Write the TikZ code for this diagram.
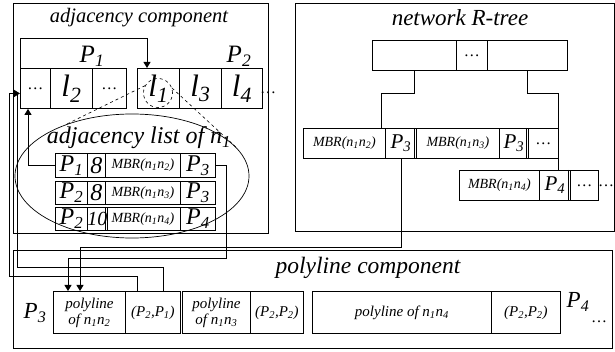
\documentclass[tikz,border=0pt]{standalone}
\usepackage{fontspec}
\setmainfont{Liberation Serif}
\usetikzlibrary{shapes.geometric,arrows.meta,calc}
\newcommand{\psb}[2]{\textit{#1}\textsubscript{\textit{#2}}}
\begin{document}
\begin{tikzpicture}[x=1pt,y=-1pt,line width=0.9pt,
  cell/.style={draw,inner sep=0pt,anchor=north west,font=\fontsize{16}{18}\selectfont\itshape},
  ttl/.style={inner sep=0pt,font=\fontsize{21}{23}\selectfont\itshape},
  biglab/.style={inner sep=0pt,font=\fontsize{25}{27}\selectfont\itshape},
  lfont/.style={font=\fontsize{31}{33}\selectfont\itshape},
  pfont/.style={font=\fontsize{24}{26}\selectfont\itshape},
  mbr/.style={font=\fontsize{14}{16}\selectfont\itshape},
  rtp/.style={font=\fontsize{21}{23}\selectfont\itshape},
  plf/.style={font=\fontsize{15}{16}\selectfont\itshape,align=center},
  dotsf/.style={inner sep=0pt,font=\fontsize{16}{18}\selectfont},
  arr/.style={-{Triangle[length=6pt,width=7pt]}},
  dsh/.style={dashed,line width=0.6pt}]
\useasboundingbox (0,0) rectangle (615,352);

% ---------- adjacency component ----------
\node[cell,minimum width=255pt,minimum height=230pt] (adjbox) at (13,3) {};
\node[ttl,font=\fontsize{20.5}{23}\selectfont\itshape] (adjtitle) at (139,18) {adjacency component};
\node[biglab] (p1lab) at (92,56) {\psb{P}{1}};
\node[biglab] (p2lab) at (239,56) {\psb{P}{2}};
\node[cell,minimum width=30pt,minimum height=40pt,font=\fontsize{16}{18}\selectfont] (c11) at (20,68) {\ldots};
\node[cell,lfont,minimum width=42pt,minimum height=40pt] (c12) at (50,68) {\psb{l}{2}};
\node[cell,minimum width=34pt,minimum height=40pt,font=\fontsize{16}{18}\selectfont] (c13) at (92,68) {\ldots};
\node[cell,lfont,minimum width=42pt,minimum height=40pt] (c21) at (137,68) {\psb{l}{1}};
\node[cell,lfont,minimum width=42pt,minimum height=40pt] (c22) at (179,68) {\psb{l}{3}};
\node[cell,lfont,minimum width=41pt,minimum height=40pt] (c23) at (221,68) {\psb{l}{4}};
\node[dotsf] (p2dots) at (268,93) {\ldots};
\node[draw,dsh,circle,minimum size=29pt,inner sep=0pt] (circ) at (158,93) {};
\node[draw,ellipse,minimum width=234pt,minimum height=124pt,inner sep=0pt,line width=0.7pt] (ell) at (132,176) {};
\node[ttl,font=\fontsize{24}{26}\selectfont\itshape] (adjlist) at (139,138) {adjacency list of \psb{n}{1}};

\node[cell,pfont,minimum width=32pt,minimum height=24pt] (r1a) at (55,153) {\psb{P}{1}};
\node[cell,pfont,minimum width=18pt,minimum height=24pt] (r1b) at (87,153) {8};
\node[cell,mbr,minimum width=75pt,minimum height=24pt] (r1c) at (105,153) {MBR(\psb{n}{1}\psb{n}{2})};
\node[cell,pfont,minimum width=35pt,minimum height=24pt] (r1d) at (180,153) {\psb{P}{3}};

\node[cell,pfont,minimum width=32pt,minimum height=23pt] (r2a) at (55,181) {\psb{P}{2}};
\node[cell,pfont,minimum width=18pt,minimum height=23pt] (r2b) at (87,181) {8};
\node[cell,mbr,minimum width=75pt,minimum height=23pt] (r2c) at (105,181) {MBR(\psb{n}{1}\psb{n}{3})};
\node[cell,pfont,minimum width=35pt,minimum height=23pt] (r2d) at (180,181) {\psb{P}{3}};

\node[cell,pfont,minimum width=32pt,minimum height=23pt] (r3a) at (55,207) {\psb{P}{2}};
\node[cell,font=\fontsize{20}{22}\selectfont\itshape,minimum width=18pt,minimum height=23pt] (r3b) at (87,207) {10};
\node[cell,mbr,minimum width=75pt,minimum height=23pt] (r3c) at (105,207) {MBR(\psb{n}{1}\psb{n}{4})};
\node[cell,pfont,minimum width=35pt,minimum height=23pt] (r3d) at (180,207) {\psb{P}{4}};

% ---------- network R-tree ----------
\node[cell,minimum width=319pt,minimum height=228pt] (rtbox) at (295,3) {};
\node[ttl,font=\fontsize{23}{25}\selectfont\itshape] (rttitle) at (460,18) {network R-tree};
\node[cell,minimum width=84pt,minimum height=30pt] (t1) at (372,40) {};
\node[cell,minimum width=31pt,minimum height=30pt,font=\fontsize{16}{18}\selectfont] (t2) at (456,40) {\ldots};
\node[cell,minimum width=80pt,minimum height=30pt] (t3) at (487,40) {};

\node[cell,mbr,minimum width=82pt,minimum height=30pt] (m1) at (303,128) {MBR(\psb{n}{1}\psb{n}{2})};
\node[cell,rtp,minimum width=31pt,minimum height=30pt] (m2) at (385,128) {\psb{P}{3}};
\node[cell,mbr,minimum width=83pt,minimum height=30pt] (m3) at (416,128) {MBR(\psb{n}{1}\psb{n}{3})};
\node[cell,rtp,minimum width=29pt,minimum height=30pt] (m4) at (499,128) {\psb{P}{3}};
\node[cell,minimum width=30pt,minimum height=30pt,font=\fontsize{16}{18}\selectfont] (m5) at (528,128) {\ldots};

\node[cell,mbr,minimum width=80pt,minimum height=30pt] (q1) at (459,170) {MBR(\psb{n}{1}\psb{n}{4})};
\node[cell,rtp,minimum width=31pt,minimum height=30pt] (q2) at (539,170) {\psb{P}{4}};
\node[cell,minimum width=28pt,minimum height=30pt,font=\fontsize{16}{18}\selectfont] (q3) at (570,170) {\ldots};
\node[dotsf] (qdots) at (606,186) {\ldots};

\draw[line width=0.6pt] ([xshift=-3pt]m2.north east) -- ([xshift=-3pt]m2.south east);
\draw[line width=0.6pt] ([xshift=-3pt]m4.north east) -- ([xshift=-3pt]m4.south east);
\draw[line width=0.6pt] ([xshift=-3pt]q2.north east) -- ([xshift=-3pt]q2.south east);

\draw (t1.south) -- ++(0,23) -| ($(m1.north east)+(-4,0)$);
\draw (t3.south) -- ++(0,23) -| (q2.north -| m5.east);

% ---------- polyline component ----------
\node[cell,minimum width=599pt,minimum height=98pt] (plbox) at (13,250) {};
\node[ttl,font=\fontsize{23.5}{25}\selectfont\itshape] (pltitle) at (368,268) {polyline component};
\node[cell,plf,minimum width=72pt,minimum height=42pt] (pa1) at (53,291) {polyline\\of \psb{n}{1}\psb{n}{2}};
\node[cell,plf,minimum width=55pt,minimum height=42pt] (pa2) at (125,291) {(\psb{P}{2},\psb{P}{1})};
\node[cell,plf,minimum width=68pt,minimum height=42pt] (pb1) at (182,291) {polyline\\of \psb{n}{1}\psb{n}{3}};
\node[cell,plf,minimum width=53pt,minimum height=42pt] (pb2) at (250,291) {(\psb{P}{2},\psb{P}{2})};
\node[cell,plf,minimum width=179pt,minimum height=42pt] (pc1) at (312,291) {polyline of \psb{n}{1}\psb{n}{4}};
\node[cell,plf,minimum width=69pt,minimum height=42pt] (pc2) at (491,291) {(\psb{P}{2},\psb{P}{2})};
\node[biglab,font=\fontsize{23}{25}\selectfont\itshape] (p3lab) at (35,313) {\psb{P}{3}};
\node[biglab,font=\fontsize{23}{25}\selectfont\itshape] (p4lab) at (578,302) {\psb{P}{4}};
\node[dotsf] (p4dots) at (599,322) {\ldots};

% ---------- connectors ----------
\draw[arr] (c11.north west) -- ++(0,-30) -| ($(c21.north west)+(10,0)$);
\draw[arr] (r1a.west) -| ($(c11.south west)+(8,0)$);
\draw[dsh] (circ.150) -- (ell.142);
\draw[dsh] (circ.20) -- (ell.15);
\draw[arr] (r1d.east) -- ++(11,0) |- ($(pa1.north west)+(15,-33)$) -- ($(pa1.north west)+(15,0)$);
\draw[arr] (m2.south) |- ($(pa1.north west)+(27,-44)$) -- ($(pa1.north west)+(27,0)$);
\draw[arr] ($(pa2.north west)+(12,0)$) -- ++(0,-15) -- ++(-128,0) |- ($(c11.west)+(0,5)$);
\draw ($(pa2.north west)+(38,0)$) -- ++(0,-24) -- ++(-146,0) -- ($(c11.west)+(-3,5)$);
\end{tikzpicture}
\end{document}
